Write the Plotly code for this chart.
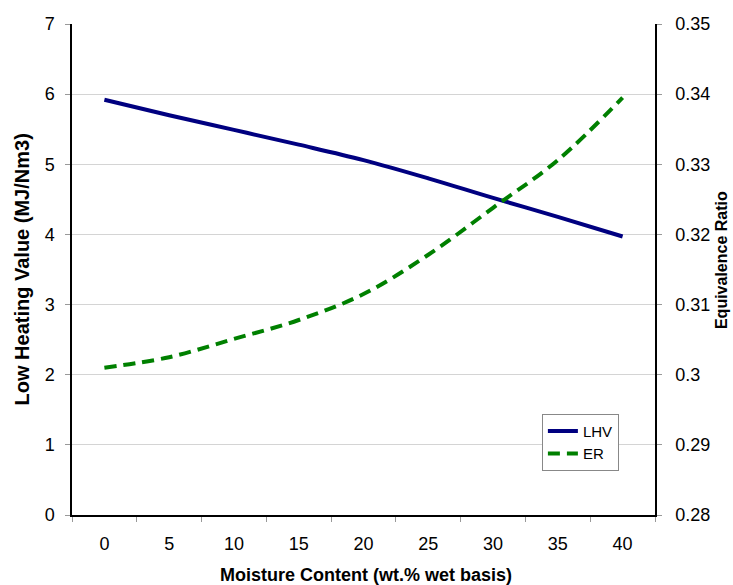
import plotly.graph_objects as go

# Moisture content (wt.% wet basis)
moisture = [0, 5, 10, 15, 20, 25, 30, 35, 40]
# Low heating value of the product gas (MJ/Nm3)
lhv = [5.92, 5.70, 5.49, 5.28, 5.06, 4.80, 4.52, 4.25, 3.97]
# Equivalence ratio
er = [0.3010, 0.3025, 0.3051, 0.3078, 0.3115, 0.3171, 0.3238, 0.3306, 0.3395]

left_ticks = [0, 1, 2, 3, 4, 5, 6, 7]
right_ticks = [0.28, 0.29, 0.30, 0.31, 0.32, 0.33, 0.34, 0.35]
right_labels = ["0.28", "0.29", "0.3", "0.31", "0.32", "0.33", "0.34", "0.35"]

FONT = "Liberation Sans, Arial, sans-serif"

fig = go.Figure()
fig.add_trace(go.Scatter(
    x=moisture, y=lhv, name="LHV", mode="lines",
    line=dict(color="#000080", width=4, shape="spline"),
))
fig.add_trace(go.Scatter(
    x=moisture, y=er, name="ER", mode="lines", yaxis="y2",
    line=dict(color="#008000", width=4, dash="12px,7px", shape="spline"),
))

fig.update_layout(
    width=733, height=585,
    margin=dict(l=72, r=78, t=24, b=70),
    plot_bgcolor="white", paper_bgcolor="white",
    font=dict(family=FONT, size=18, color="black"),
    xaxis=dict(
        range=[-2.5, 42.5], tickvals=moisture, ticktext=[str(v) for v in moisture],
        ticks="", showgrid=False, zeroline=False, automargin=False,
        showline=True, linecolor="black", linewidth=1.5,
        minor=dict(ticks="outside", tick0=-2.5, dtick=5, ticklen=5,
                   tickcolor="#999999", showgrid=False),
        tickfont=dict(size=18), ticklabelstandoff=12,
    ),
    yaxis=dict(
        range=[0, 7], tickvals=left_ticks, ticks="outside", ticklen=5,
        tickcolor="#999999", showgrid=True, gridcolor="#d4d4d4", gridwidth=1,
        zeroline=False, showline=True, linecolor="black", linewidth=1.5,
        automargin=False, tickfont=dict(size=18), ticklabelstandoff=7,
    ),
    yaxis2=dict(
        range=[0.28, 0.35], tickvals=right_ticks, ticktext=right_labels,
        overlaying="y", side="right", ticks="outside", ticklen=5,
        tickcolor="#999999", showgrid=False, zeroline=False,
        showline=True, linecolor="black", linewidth=1.5,
        automargin=False, tickfont=dict(size=18), ticklabelstandoff=10,
    ),
    legend=dict(
        x=0.806, y=0.206, xanchor="left", yanchor="top",
        bgcolor="white", bordercolor="#888888", borderwidth=1,
        font=dict(size=15),
    ),
    showlegend=True,
)

# Axis titles
fig.add_annotation(text="<b>Moisture Content (wt.% wet basis)</b>",
                   xref="paper", yref="paper", x=0.505, y=-0.122,
                   xanchor="center", yanchor="middle", showarrow=False,
                   font=dict(size=18))
fig.add_annotation(text="<b>Low Heating Value (MJ/Nm3)</b>",
                   xref="paper", yref="paper", x=-0.0858, y=0.5,
                   xanchor="center", yanchor="middle", textangle=-90,
                   showarrow=False, font=dict(size=20))
fig.add_annotation(text="<b>Equivalence Ratio</b>",
                   xref="paper", yref="paper", x=1.113, y=0.519,
                   xanchor="center", yanchor="middle", textangle=-90,
                   showarrow=False, font=dict(size=16))

fig.write_html("out.html")
